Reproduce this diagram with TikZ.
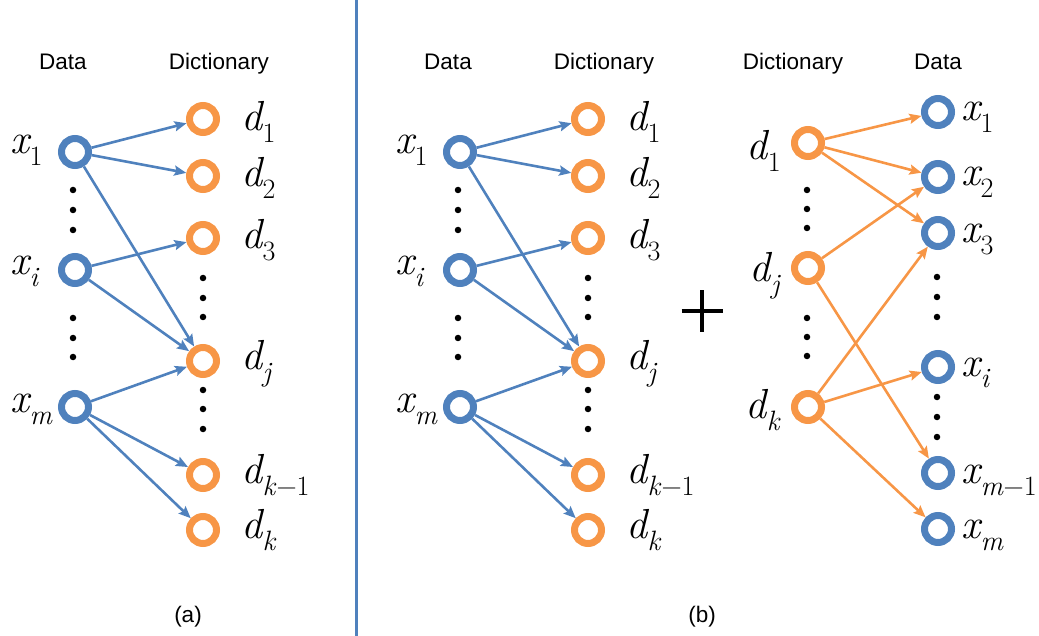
\documentclass[tikz,border=0pt]{standalone}
\usepackage{fontspec}
\newfontfamily\headfont{Liberation Sans}
\usetikzlibrary{arrows.meta}
\definecolor{nodeblue}{RGB}{79,129,189}
\definecolor{nodeorange}{RGB}{247,150,70}
% italic symbol with a lowered subscript
\newcommand\vlab[2]{{\fontsize{42}{42}\selectfont\itshape #1}\kern0.5pt\raisebox{-12pt}{\fontsize{28}{28}\selectfont #2}}
\newcommand\ik[1]{\textit{#1}}
\begin{document}
\begin{tikzpicture}[x=1pt,y=-1pt,
  ring/.style={circle, line width=7pt, minimum size=27pt, inner sep=0pt},
  bnode/.style={ring, draw=nodeblue},
  onode/.style={ring, draw=nodeorange},
  tip/.style={-{Stealth[length=12pt,width=10pt,inset=2pt]}},
  blink/.style={draw=nodeblue, line width=2.6pt, tip},
  olink/.style={draw=nodeorange, line width=2.6pt, tip},
  vdot/.style={circle, fill=black, inner sep=0pt, minimum size=6.5pt},
  head/.style={font=\headfont\fontsize{22.5}{24}\selectfont, anchor=base, inner sep=0pt},
  lab/.style={inner sep=0pt},
  encoder/.pic={
    \node[head] (-hdata) at (63,70) {Data};
    \node[head] (-hdict) at (219,70) {Dictionary};
    \node[bnode] (-x1) at (75,152) {};
    \node[bnode] (-xi) at (75,270) {};
    \node[bnode] (-xm) at (75,407) {};
    \node[onode] (-d1) at (203,119) {};
    \node[onode] (-d2) at (203,176) {};
    \node[onode] (-d3) at (203,238) {};
    \node[onode] (-dj) at (203,361) {};
    \node[onode] (-dk1) at (203,475) {};
    \node[onode] (-dk) at (203,530) {};
    \node[lab, anchor=base west] (-lx1) at (10,154) {\vlab{x}{1}};
    \node[lab, anchor=base west] (-lxi) at (10,275) {\vlab{x}{\ik{i}}};
    \node[lab, anchor=base west] (-lxm) at (10,412) {\vlab{x}{\ik{m}}};
    \node[lab, anchor=base west] (-ld1) at (241,131) {\vlab{d}{1}};
    \node[lab, anchor=base west] (-ld2) at (241,187) {\vlab{d}{2}};
    \node[lab, anchor=base west] (-ld3) at (241,249) {\vlab{d}{3}};
    \node[lab, anchor=base west] (-ldj) at (241,370) {\vlab{d}{\ik{j}}};
    \node[lab, anchor=base west] (-ldk1) at (241,483) {\vlab{d}{\ik{k}−1}};
    \node[lab, anchor=base west] (-ldk) at (241,538) {\vlab{d}{\ik{k}}};
    \foreach \y [count=\n] in {190,210,230,318,338,357}
      \node[vdot] (-xdot\n) at (73,\y) {};
    \foreach \y [count=\n] in {278,298,317,390,409,429}
      \node[vdot] (-ddot\n) at (203,\y) {};
    \draw[blink] (-x1) -- (-d1);
    \draw[blink] (-x1) -- (-d2);
    \draw[blink] (-x1) -- (-dj);
    \draw[blink] (-xi) -- (-d3);
    \draw[blink] (-xi) -- (-dj);
    \draw[blink] (-xm) -- (-dj);
    \draw[blink] (-xm) -- (-dk1);
    \draw[blink] (-xm) -- (-dk);
  }]
\useasboundingbox (0,0) rectangle (1039,636);

% panel (a)
\pic (a) at (0,0) {encoder};
\node[head] (capa) at (188,622) {(a)};

% divider
\coordinate (divtop) at (356,0);
\coordinate (divbot) at (356,636);
\draw[nodeblue, line width=3pt] (divtop) -- (divbot);

% panel (b), left half
\pic (b) at (385,0) {encoder};

% plus sign
\coordinate (pc) at (702,311);
\draw[line width=3.5pt] ([xshift=-20.5pt]pc) -- ([xshift=20.5pt]pc);
\draw[line width=3.5pt] ([yshift=-21pt]pc) -- ([yshift=21pt]pc);

% panel (b), right half
\node[head] (rdict) at (793,70) {Dictionary};
\node[head] (rdata) at (938,70) {Data};
\node[onode] (r-d1) at (808,143) {};
\node[onode] (r-dj) at (808,268) {};
\node[onode] (r-dk) at (808,407) {};
\node[bnode] (r-x1) at (938,112) {};
\node[bnode] (r-x2) at (938,177) {};
\node[bnode] (r-x3) at (938,233) {};
\node[bnode] (r-xi) at (938,367) {};
\node[bnode] (r-xm1) at (938,473) {};
\node[bnode] (r-xm) at (938,529) {};
\node[lab, anchor=base east] (r-ld1) at (781,160) {\vlab{d}{1}};
\node[lab, anchor=base east] (r-ldj) at (781,282) {\vlab{d}{\ik{j}}};
\node[lab, anchor=base east] (r-ldk) at (781,418) {\vlab{d}{\ik{k}}};
\node[lab, anchor=base west] (r-lx1) at (961,121) {\vlab{x}{1}};
\node[lab, anchor=base west] (r-lx2) at (961,186) {\vlab{x}{2}};
\node[lab, anchor=base west] (r-lx3) at (961,243) {\vlab{x}{3}};
\node[lab, anchor=base west] (r-lxi) at (961,376) {\vlab{x}{\ik{i}}};
\node[lab, anchor=base west] (r-lxm1) at (961,483) {\vlab{x}{\ik{m}−1}};
\node[lab, anchor=base west] (r-lxm) at (961,538) {\vlab{x}{\ik{m}}};
\foreach \y [count=\n] in {190,209,228,318,337,356}
  \node[vdot] (r-ddot\n) at (807,\y) {};
\foreach \y [count=\n] in {277,297,317,397,417,437}
  \node[vdot] (r-xdot\n) at (937,\y) {};
\draw[olink] (r-d1) -- (r-x1);
\draw[olink] (r-d1) -- (r-x2);
\draw[olink] (r-d1) -- (r-x3);
\draw[olink] (r-dj) -- (r-x2);
\draw[olink] (r-dj) -- (r-xm1);
\draw[olink] (r-dk) -- (r-x3);
\draw[olink] (r-dk) -- (r-xi);
\draw[olink] (r-dk) -- (r-xm);
\node[head] (capb) at (702,622) {(b)};
\end{tikzpicture}
\end{document}
